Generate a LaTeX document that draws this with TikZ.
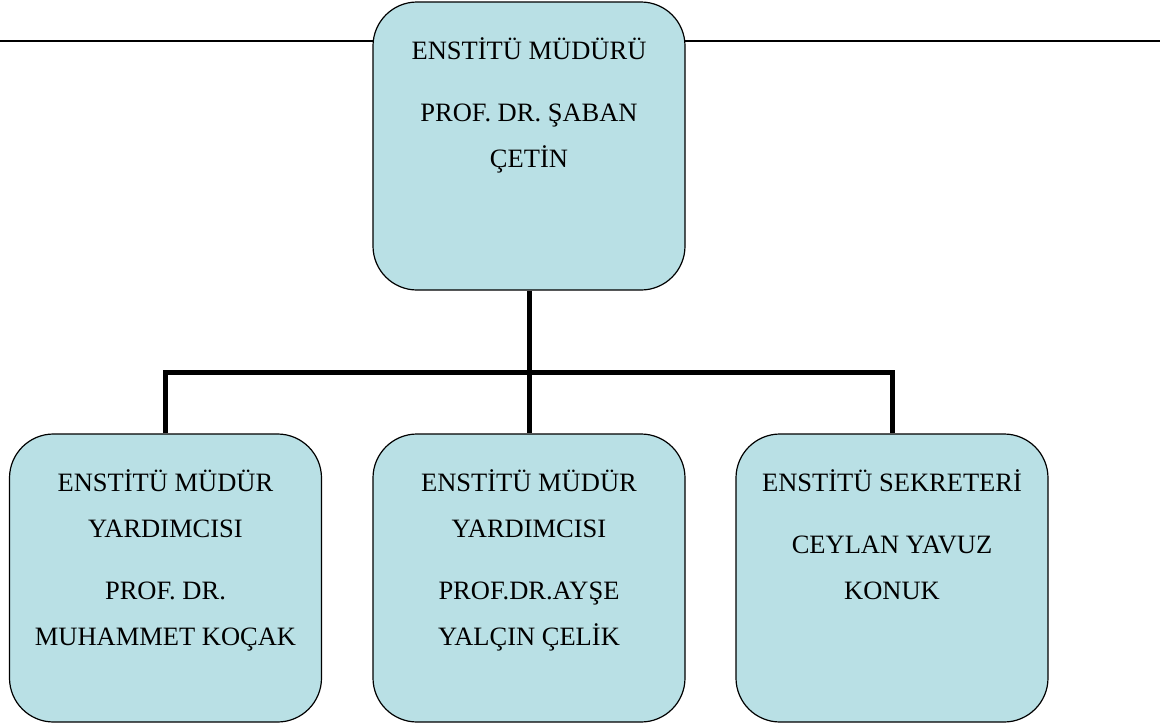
\documentclass[tikz,border=0pt]{standalone}
\usepackage{fontspec}
\setmainfont{Liberation Serif}
\definecolor{boxfill}{RGB}{185,224,229}

\begin{document}
\begin{tikzpicture}[x=1pt,y=-1pt,
    orgbox/.style={draw=black,line width=1.2pt,fill=boxfill,rectangle,rounded corners=44pt,minimum width=312pt,minimum height=288pt,inner sep=0pt},
    orgtext/.style={anchor=north,inner sep=0pt,align=center,font=\fontsize{26.5pt}{46pt}\selectfont},
    link/.style={draw=black,line width=5pt}]
                  \useasboundingbox (0,0) rectangle (1160,724);
                  % top rule behind the head box
                  \coordinate (ruleL) at (0,41);
                  \coordinate (ruleR) at (1160,41);
                  \draw [line width=1.5pt, black] (ruleL) -- (ruleR);
                  % head box
                  \node [orgbox] (mudur) at (529,146) {};
                  \node [orgtext] (mudurtxt) at (529,35) {\rule{0pt}{24pt}ENSTİTÜ MÜDÜRÜ\\[16pt]PROF. DR. ŞABAN\\ÇETİN};
                  % bottom left box
                  \node [orgbox] (yard1) at (165.5,578) {};
                  \node [orgtext] (yard1txt) at (165.5,467) {\rule{0pt}{24pt}ENSTİTÜ MÜDÜR\\YARDIMCISI\\[16pt]PROF. DR.\\MUHAMMET KOÇAK};
                  % bottom middle box
                  \node [orgbox] (yard2) at (529,578) {};
                  \node [orgtext] (yard2txt) at (529,467) {\rule{0pt}{24pt}ENSTİTÜ MÜDÜR\\YARDIMCISI\\[16pt]PROF.DR.AYŞE\\YALÇIN ÇELİK};
                  % bottom right box
                  \node [orgbox] (sekr) at (892,578) {};
                  \node [orgtext] (sekrtxt) at (892,467) {\rule{0pt}{24pt}ENSTİTÜ SEKRETERİ\\[16pt]CEYLAN YAVUZ\\KONUK};
                  % connectors
                  \coordinate (hub) at (529,372);
                  \draw [link] (mudur.south) -- (yard2.north);
                  \draw [link] (yard1.north) |- (hub) -| (sekr.north);
\end{tikzpicture}
\end{document}
